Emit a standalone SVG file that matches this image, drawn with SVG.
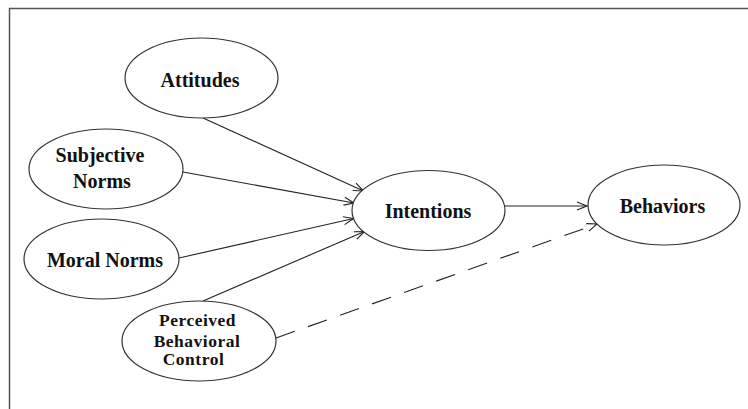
<svg xmlns="http://www.w3.org/2000/svg" width="748" height="409" viewBox="0 0 748 409">
<defs>
<style>
.node ellipse{fill:#fff;stroke:#333;stroke-width:1.2}
.lbl{font-family:"Liberation Serif","Times New Roman",serif;font-weight:bold;font-size:20px;fill:#111;text-anchor:middle}
.sm{font-size:17.5px;letter-spacing:0.5px}
.conn line{stroke:#222;stroke-width:1.1;fill:none}
.dash{stroke-dasharray:20 14}
</style>
<marker id="arr" viewBox="0 0 12 10" refX="11" refY="5" markerWidth="12" markerHeight="10" markerUnits="userSpaceOnUse" orient="auto">
<path d="M1,1 L11,5 L1,9" fill="none" stroke="#222" stroke-width="1.1"/>
</marker>
</defs>
<rect width="748" height="409" fill="#fff"/>
<g id="frame" stroke="#555" stroke-width="1.5" fill="none">
<line x1="9" y1="8.5" x2="748" y2="8.5"/>
<line x1="9.5" y1="8" x2="9.5" y2="409"/>
</g>
<g id="connectors" class="conn">
<line x1="203" y1="118" x2="363.5" y2="191" marker-end="url(#arr)"/>
<line x1="183" y1="172" x2="354" y2="203" marker-end="url(#arr)"/>
<line x1="179" y1="258" x2="353.5" y2="218.5" marker-end="url(#arr)"/>
<line x1="203" y1="301" x2="364.5" y2="231.5" marker-end="url(#arr)"/>
<line x1="505" y1="206" x2="587" y2="206" marker-end="url(#arr)"/>
<line class="dash" x1="276" y1="338" x2="597" y2="224" marker-end="url(#arr)"/>
</g>
<g id="attitudes" class="node">
<ellipse cx="201.5" cy="78" rx="76.5" ry="40"/>
<text class="lbl" x="200" y="86.5">Attitudes</text>
</g>
<g id="subjective-norms" class="node">
<ellipse cx="106" cy="169" rx="77" ry="40"/>
<text class="lbl" x="100" y="162">Subjective</text>
<text class="lbl" x="102" y="188">Norms</text>
</g>
<g id="moral-norms" class="node">
<ellipse cx="101.5" cy="259" rx="77.5" ry="40"/>
<text class="lbl" x="105" y="266.5">Moral Norms</text>
</g>
<g id="perceived-behavioral-control" class="node">
<ellipse cx="199" cy="341" rx="77" ry="40"/>
<text class="lbl sm" x="197.5" y="325.5">Perceived</text>
<text class="lbl sm" x="197" y="346.5">Behavioral</text>
<text class="lbl sm" x="193.5" y="365">Control</text>
</g>
<g id="intentions" class="node">
<ellipse cx="428.5" cy="210.5" rx="76.5" ry="40"/>
<text class="lbl" x="428" y="218">Intentions</text>
</g>
<g id="behaviors" class="node">
<ellipse cx="664" cy="205" rx="76" ry="40"/>
<text class="lbl" x="662.5" y="212.5">Behaviors</text>
</g>
</svg>
